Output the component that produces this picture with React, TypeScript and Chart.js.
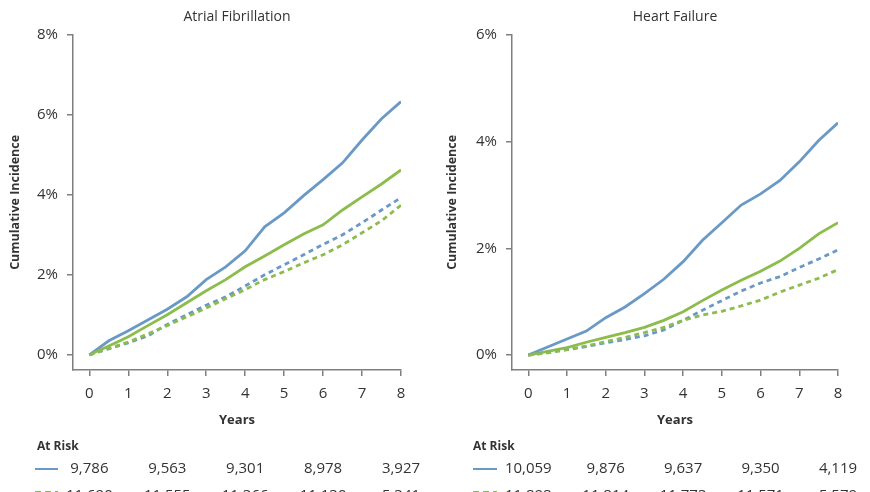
import React, { useEffect, useRef } from "react";
import { Chart, registerables } from "chart.js";

Chart.register(...registerables);

// ---- Data ----
const years = [0, 0.5, 1, 1.5, 2, 2.5, 3, 3.5, 4, 4.5, 5, 5.5, 6, 6.5, 7, 7.5, 8];

// Atrial Fibrillation (%)
const afBlueSolid = [0, 0.35, 0.6, 0.87, 1.14, 1.45, 1.88, 2.2, 2.6, 3.2, 3.55, 3.98, 4.38, 4.8, 5.37, 5.9, 6.33];
const afGreenSolid = [0, 0.22, 0.45, 0.73, 1.0, 1.3, 1.6, 1.88, 2.2, 2.47, 2.75, 3.02, 3.25, 3.62, 3.95, 4.27, 4.62];
const afBlueDashed = [0, 0.15, 0.3, 0.47, 0.76, 1.0, 1.24, 1.45, 1.72, 2.0, 2.25, 2.5, 2.76, 3.0, 3.3, 3.62, 3.93];
const afGreenDashed = [0, 0.16, 0.32, 0.52, 0.73, 0.95, 1.17, 1.4, 1.63, 1.88, 2.08, 2.3, 2.5, 2.75, 3.05, 3.35, 3.74];

// Heart Failure (%)
const hfBlueSolid = [0, 0.15, 0.3, 0.45, 0.7, 0.9, 1.15, 1.42, 1.75, 2.15, 2.48, 2.81, 3.02, 3.27, 3.62, 4.02, 4.35];
const hfGreenSolid = [0, 0.07, 0.14, 0.24, 0.33, 0.42, 0.52, 0.65, 0.81, 1.02, 1.22, 1.4, 1.57, 1.76, 2.0, 2.27, 2.48];
const hfBlueDashed = [0, 0.05, 0.1, 0.16, 0.23, 0.29, 0.36, 0.47, 0.65, 0.84, 1.02, 1.2, 1.35, 1.47, 1.64, 1.8, 1.97];
const hfGreenDashed = [0, 0.04, 0.1, 0.17, 0.25, 0.33, 0.42, 0.52, 0.65, 0.75, 0.82, 0.92, 1.03, 1.18, 1.31, 1.44, 1.6];

// Ticks
const xTickValues = [0, 1, 2, 3, 4, 5, 6, 7, 8];
const afYTicks = [0, 2, 4, 6, 8];
const hfYTicks = [0, 2, 4, 6];

// At-risk table
const riskYears = [0, 2, 4, 6, 8];
const afRiskBlue = ["9,786", "9,563", "9,301", "8,978", "3,927"];
const afRiskGreen = ["11,690", "11,555", "11,366", "11,130", "5,341"];
const hfRiskBlue = ["10,059", "9,876", "9,637", "9,350", "4,119"];
const hfRiskGreen = ["11,898", "11,814", "11,773", "11,571", "5,579"];

const BLUE = "#6a99c6";
const GREEN = "#8cbc4c";
const AXIS = "#7f7f7f";
const TEXT = "#333333";
const FONT = "'Open Sans', 'Noto Sans', sans-serif";

const pts = (ys: number[]) => years.map((t, i) => ({ x: t, y: ys[i] }));

function makeRiskPlugin(blue: string[], green: string[], labelX: number, lineX0: number, lineX1: number) {
  return {
    id: "atRisk",
    afterDraw(chart: any) {
      const ctx = chart.ctx;
      const xs = chart.scales.x;
      ctx.save();
      ctx.fillStyle = TEXT;
      ctx.textBaseline = "middle";
      ctx.textAlign = "left";
      ctx.font = `bold 12px ${FONT}`;
      ctx.fillText("At Risk", labelX, 447);
      ctx.lineWidth = 2;
      ctx.strokeStyle = BLUE;
      ctx.beginPath();
      ctx.moveTo(lineX0, 469);
      ctx.lineTo(lineX1, 469);
      ctx.stroke();
      ctx.strokeStyle = GREEN;
      ctx.setLineDash([6, 4]);
      ctx.beginPath();
      ctx.moveTo(lineX0, 492);
      ctx.lineTo(lineX1, 492);
      ctx.stroke();
      ctx.setLineDash([]);
      ctx.font = `15px ${FONT}`;
      ctx.textAlign = "center";
      riskYears.forEach((yr, i) => {
        const px = xs.getPixelForValue(yr);
        ctx.fillText(blue[i], px, 469);
        ctx.fillText(green[i], px, 496);
      });
      ctx.restore();
    },
  };
}

function buildConfig(opts: {
  title: string;
  series: number[][];
  yMin: number;
  yMax: number;
  yTicks: number[];
  padLeft: number;
  padRight: number;
  yWidth: number;
  plugin: any;
}) {
  const [bs, gs, bd, gd] = opts.series;
  const line = (data: number[], color: string, dashed: boolean) => ({
    data: pts(data),
    borderColor: color,
    backgroundColor: color,
    borderWidth: 2.8,
    borderDash: dashed ? [5, 4] : [],
    pointRadius: 0,
    tension: 0,
    fill: false,
  });
  return {
    type: "line" as const,
    data: {
      datasets: [line(gd, GREEN, true), line(bd, BLUE, true), line(gs, GREEN, false), line(bs, BLUE, false)],
    },
    options: {
      responsive: false,
      animation: false,
      devicePixelRatio: 1,
      layout: { padding: { left: opts.padLeft, right: opts.padRight, top: 0, bottom: 62 } },
      plugins: {
        legend: { display: false },
        tooltip: { enabled: false },
        title: {
          display: true,
          text: opts.title,
          fullSize: false,
          color: TEXT,
          font: { family: FONT, size: 14, weight: "normal" },
          padding: { top: 9, bottom: 9 },
        },
      },
      scales: {
        x: {
          type: "linear",
          min: -0.42,
          max: 8,
          afterBuildTicks: (s: any) => {
            s.ticks = xTickValues.map((v) => ({ value: v }));
          },
          afterFit: (s: any) => {
            s.height = 60;
          },
          grid: { drawOnChartArea: false, drawTicks: true, tickLength: 6, color: AXIS, lineWidth: 1.5 },
          border: { display: true, color: AXIS, width: 1.5 },
          ticks: {
            autoSkip: false,
            maxRotation: 0,
            color: TEXT,
            font: { family: FONT, size: 15 },
            padding: 9,
            callback: (v: any) => String(v),
          },
          title: {
            display: true,
            text: "Years",
            color: TEXT,
            font: { family: FONT, size: 13, weight: "bold" },
            padding: { top: 0, bottom: 2 },
          },
        },
        y: {
          type: "linear",
          min: opts.yMin,
          max: opts.yMax,
          afterBuildTicks: (s: any) => {
            s.ticks = opts.yTicks.map((v) => ({ value: v }));
          },
          afterFit: (s: any) => {
            s.width = opts.yWidth;
          },
          grid: { drawOnChartArea: false, drawTicks: true, tickLength: 6, color: AXIS, lineWidth: 1.5 },
          border: { display: true, color: AXIS, width: 1.5 },
          ticks: {
            autoSkip: false,
            color: TEXT,
            font: { family: FONT, size: 15 },
            padding: 9,
            callback: (v: any) => `${v}%`,
          },
          title: {
            display: true,
            text: "Cumulative Incidence",
            color: TEXT,
            font: { family: FONT, size: 12.5, weight: "bold" },
            padding: { top: 8, bottom: 0 },
          },
        },
      },
    },
    plugins: [opts.plugin],
  };
}

function Panel(props: { config: any; left: number }) {
  const ref = useRef<HTMLCanvasElement>(null);
  useEffect(() => {
    if (!ref.current) return;
    const chart = new Chart(ref.current, props.config);
    return () => chart.destroy();
  }, []);
  return (
    <canvas
      ref={ref}
      width={435}
      height={492}
      style={{ position: "absolute", left: props.left, top: 0, width: 435, height: 492 }}
    />
  );
}

export default function App() {
  const afConfig = buildConfig({
    title: "Atrial Fibrillation",
    series: [afBlueSolid, afGreenSolid, afBlueDashed, afGreenDashed],
    yMin: -0.38,
    yMax: 8,
    yTicks: afYTicks,
    padLeft: 0,
    padRight: 34,
    yWidth: 73,
    plugin: makeRiskPlugin(afRiskBlue, afRiskGreen, 37, 35, 58),
  });
  const hfConfig = buildConfig({
    title: "Heart Failure",
    series: [hfBlueSolid, hfGreenSolid, hfBlueDashed, hfGreenDashed],
    yMin: -0.28,
    yMax: 6,
    yTicks: hfYTicks,
    padLeft: 2,
    padRight: 32,
    yWidth: 75,
    plugin: makeRiskPlugin(hfRiskBlue, hfRiskGreen, 38, 38, 62),
  });
  return (
    <div style={{ position: "fixed", left: 0, top: 0, width: 870, height: 492, background: "#fff", overflow: "hidden" }}>
      <Panel config={afConfig} left={0} />
      <Panel config={hfConfig} left={435} />
    </div>
  );
}
